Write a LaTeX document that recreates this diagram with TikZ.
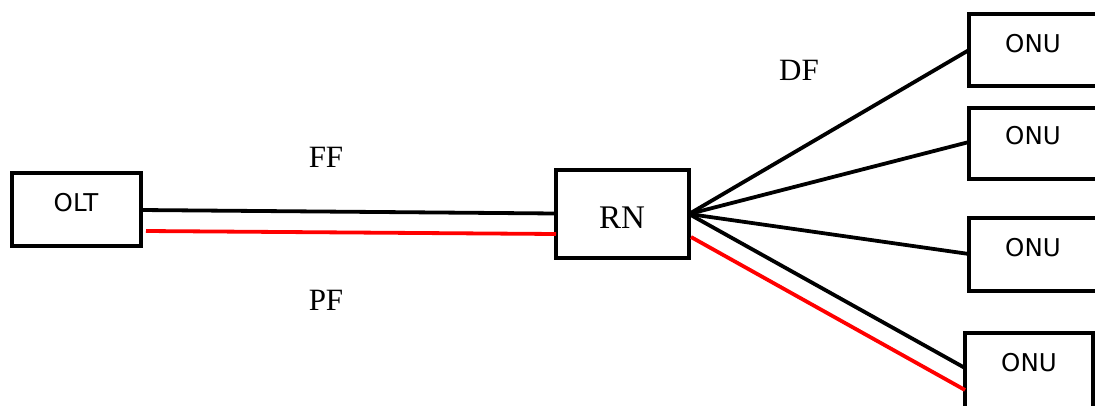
\documentclass[tikz,border=0pt]{standalone}
\usepackage{fontspec}
\setmainfont{Liberation Serif}
\newfontfamily\sansf{DejaVu Sans}
\begin{document}
\begin{tikzpicture}[x=1pt,y=-1pt,
  box/.style={draw=black,line width=4pt,fill=white,inner sep=0pt,outer sep=0pt},
  fib/.style={line width=3.8pt},
  redfib/.style={line width=3.8pt,draw=red},
  lbl/.style={font=\fontsize{31}{31}\selectfont},
  sl/.style={font=\sansf\fontsize{24.5}{25}\selectfont}]
\useasboundingbox (0,0) rectangle (1095,405);
\clip (0,0) rectangle (1095,405);
\node[box,minimum width=129pt,minimum height=73pt] (olt) at (76.5,209) {};
\node[sl] (olttxt) at (76,203) {OLT};
\node[box,minimum width=133pt,minimum height=88pt] (rn) at (622.5,214) {};
\node[font=\fontsize{33}{33}\selectfont] (rntxt) at (622,218) {RN};
\node[box,minimum width=128pt,minimum height=72pt] (onu1) at (1033,50) {};
\node[box,minimum width=128pt,minimum height=71pt] (onu2) at (1033,143.5) {};
\node[box,minimum width=128pt,minimum height=73pt] (onu3) at (1033,254.5) {};
\node[box,minimum width=128pt,minimum height=80pt] (onu4) at (1029,373) {};
\node[sl] (t1) at (1033,44) {ONU};
\node[sl] (t2) at (1033,136) {ONU};
\node[sl] (t3) at (1033,248) {ONU};
\node[sl] (t4) at (1029,363) {ONU};
% connection points
\coordinate (oltA) at (141,210);
\coordinate (oltB) at (146,231);
\coordinate (rnA) at (556,213.5);
\coordinate (rnB) at (556,234);
\coordinate (rnC) at (689,214);
\coordinate (rnD) at (691,237);
\coordinate (u1) at (969,50);
\coordinate (u2) at (969,142);
\coordinate (u3) at (969,254);
\coordinate (u4) at (965,368);
\coordinate (u4r) at (965,390);
\draw[fib] (oltA) -- (rnA);
\draw[redfib] (oltB) -- (rnB);
\draw[fib] (rnC) -- (u1);
\draw[fib] (rnC) -- (u2);
\draw[fib] (rnC) -- (u3);
\draw[fib] (rnC) -- (u4);
\draw[redfib] (rnD) -- (u4r);
\node[lbl] (ff) at (326,157) {FF};
\node[lbl] (pf) at (326,300) {PF};
\node[lbl] (df) at (799,70) {DF};
\end{tikzpicture}
\end{document}
